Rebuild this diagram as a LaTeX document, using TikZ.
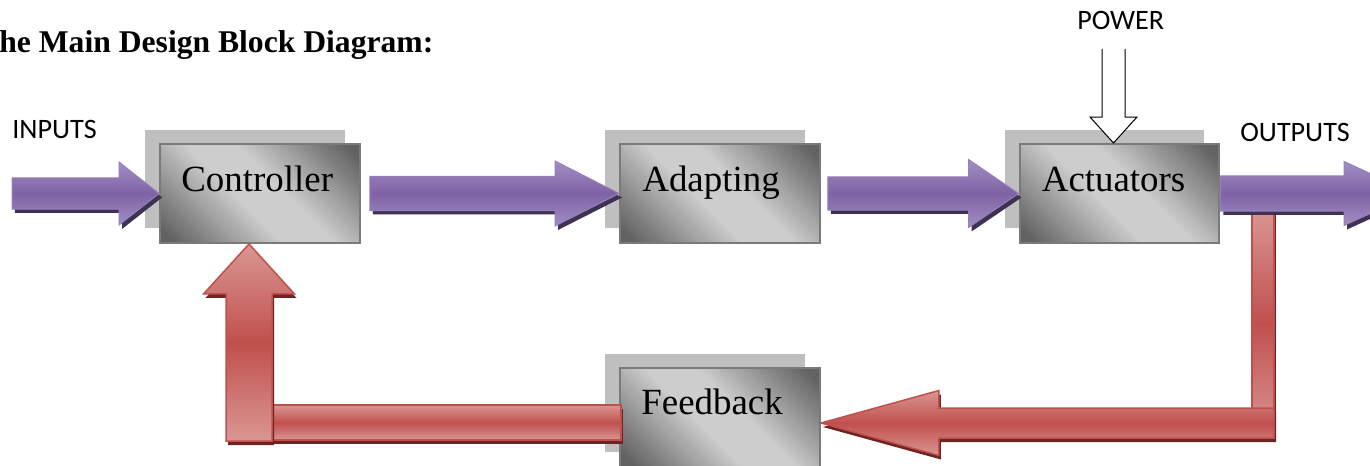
\documentclass[tikz,border=0pt]{standalone}
\usepackage{fontspec}
\setmainfont{Liberation Serif}
\newfontfamily\labelfont{Carlito}
\usetikzlibrary{calc, shadows}

\definecolor{boxdark}{HTML}{626262}
\definecolor{boxlight}{HTML}{CDCDCD}
\definecolor{boxline}{HTML}{7A7A7A}
\definecolor{boxshadow}{HTML}{BFBFBF}
\definecolor{purpfill}{HTML}{7F62A4}
\definecolor{purplight}{HTML}{A18FC5}
\definecolor{purpline}{HTML}{9580BD}
\definecolor{purpshadow}{HTML}{3F3151}
\definecolor{redfill}{HTML}{C0504D}
\definecolor{redlight}{HTML}{DA9693}
\definecolor{redshadow}{HTML}{6E2422}

\pgfdeclareverticalshading{blkshade}{100bp}{color(0bp)=(boxdark); color(18bp)=(boxdark);
  color(44bp)=(boxlight); color(56bp)=(boxlight); color(82bp)=(boxdark); color(100bp)=(boxdark)}

% fat arrows: tail, tip, shaft half width, head half width, head length (signed)
\newcommand{\harrow}[5]{($(#1)+(0,-#3)$) -- ($(#2)+(#5,-#3)$) -- ($(#2)+(#5,-#4)$) -- (#2)
  -- ($(#2)+(#5,#4)$) -- ($(#2)+(#5,#3)$) -- ($(#1)+(0,#3)$) -- cycle}
\newcommand{\varrow}[5]{($(#1)+(-#3,0)$) -- ($(#2)+(-#3,#5)$) -- ($(#2)+(-#4,#5)$) -- (#2)
  -- ($(#2)+(#4,#5)$) -- ($(#2)+(#3,#5)$) -- ($(#1)+(#3,0)$) -- cycle}

\begin{document}
\begin{tikzpicture}[x=0.02cm, y=-0.02cm,
  blk/.style={draw=boxline, line width=0.04cm, minimum width=4cm, minimum height=1.98cm, inner sep=0,
    shading=blkshade, shading angle=-45,
    drop shadow={shadow xshift=-0.3cm, shadow yshift=0.29cm, fill=boxshadow, opacity=1}},
  blktext/.style={font=\fontsize{21}{24}\selectfont, anchor=base west, inner sep=0},
  io/.style={font=\labelfont\fontsize{16}{19}\selectfont, anchor=base west, inner sep=0},
  flow/.style={draw=purpline, line width=0.02cm,
    top color=purplight, bottom color=purplight, middle color=purpfill,
    drop shadow={shadow xshift=0.06cm, shadow yshift=-0.08cm, fill=purpshadow, opacity=1}},
  back/.style={draw=redfill, line width=0.03cm,
    top color=redlight, bottom color=redlight, middle color=redfill,
    drop shadow={shadow xshift=0.04cm, shadow yshift=-0.08cm, fill=redshadow, opacity=1}},
  supply/.style={draw=black, line width=0.02cm, fill=white}
]
  \useasboundingbox (0,0) rectangle (1370,466);
  \clip (0,0) rectangle (1370,466);

  \node[font=\bfseries\fontsize{18}{21}\selectfont, anchor=base west, inner sep=0] (title) at (-1,53)
    {he Main Design Block Diagram:};

  % blocks
  \node[blk] (ctrl) at (260,193.5) {};
  \node[blk] (ad) at (720,193.5) {};
  \node[blk] (act) at (1119.5,193.5) {};
  \node[blk] (fb) at (720,417.5) {};

  \node[blktext] (ctrltxt) at ($(ctrl.north west)+(22,48)$) {Controller};
  \node[blktext] (adtxt) at ($(ad.north west)+(23,48)$) {Adapting};
  \node[blktext] (acttxt) at ($(act.north west)+(23,48)$) {Actuators};
  \node[blktext] (fbtxt) at ($(fb.north west)+(22,47)$) {Feedback};

  \node[io] (inlbl) at (12,139) {INPUTS};
  \node[io] (outlbl) at (1240,142) {OUTPUTS};
  \node[io] (pwr) at (1077,30) {POWER};

  \coordinate (in) at (12,193.5);
  \coordinate (out) at (1414,193.5);
  \coordinate (c2) at ($(ctrl.east)+(9,0)$);
  \coordinate (c3) at ($(ad.east)+(7,0)$);
  \coordinate (pw) at (1113.5,49);
  \coordinate (fbl) at (249,423);
  \coordinate (fbb) at ($(fbl)+(0,18)$);
  \coordinate (ctrlin) at ($(ctrl.south)+(-11,0)$);
  \coordinate (fbr) at (1263,423);
  \coordinate (fbrt) at ($(fbr)+(11,0)$);

  % feedback loop
  \path[back] ($(fbr)+(-11,-215)$) rectangle ($(fbr)+(11,15)$);
  \path[back] \harrow{fbrt}{fb.east |- fbr}{15}{32.5}{118};
  \path[back] ($(fbl)+(23,-18)$) rectangle ($(fbl -| fb.west)+(2,17)$);
  \path[back] \varrow{fbb}{ctrlin}{23}{45.5}{50};

  % forward path
  \path[flow] \harrow{in}{ctrl.west}{15.5}{31.5}{-40};
  \path[flow] \harrow{c2}{ad.west}{17}{32.5}{-64};
  \path[flow] \harrow{c3}{act.west}{16.5}{34}{-50};
  \path[flow] \harrow{act.east}{out}{17.5}{32}{-70};

  % power
  \path[supply] ($(pw)+(-11.5,0)$) -- ($(pw |- act.north)+(-11.5,-26)$) -- ($(pw |- act.north)+(-23.5,-26)$)
    -- (pw |- act.north) -- ($(pw |- act.north)+(23.5,-26)$) -- ($(pw |- act.north)+(11.5,-26)$)
    -- ($(pw)+(11.5,0)$);
\end{tikzpicture}
\end{document}
